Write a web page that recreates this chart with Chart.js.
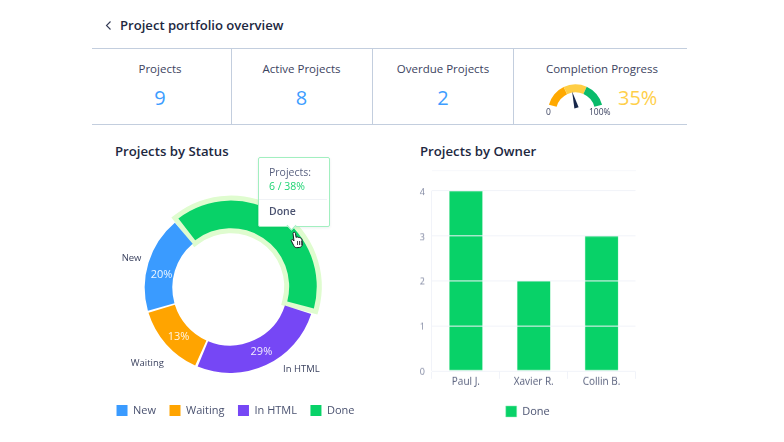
<!DOCTYPE html>
<html><head><meta charset="utf-8">
<script src="https://cdn.jsdelivr.net/npm/chart.js@4"></script>
<style>
html,body{margin:0;padding:0;background:#fff;width:784px;height:442px;overflow:hidden;font-family:"Open Sans",sans-serif}
.t{position:absolute;white-space:nowrap;line-height:1}
.c{transform:translateX(-50%)}
.line{position:absolute;background:#c3cede}
canvas{position:absolute}
#tip{position:absolute;left:257.5px;top:156.5px;width:70px;height:68px;background:#fff;border:1.3px solid #a2efc0;border-radius:2px;box-shadow:0 1px 3px rgba(30,60,50,.08)}
#tipNotch{position:absolute;left:288px;top:221.5px;width:6px;height:6px;background:#fff;border-right:1.3px solid #a2efc0;border-bottom:1.3px solid #a2efc0;transform:rotate(45deg)}
</style></head>
<body>
<svg style="position:absolute;left:104px;top:20px" width="10" height="12" viewBox="0 0 10 12"><path d="M6.5 1.5 L2.5 5.5 L6.5 9.5" fill="none" stroke="#333a55" stroke-width="1.1"/></svg>
<div class="t" style="left:120px;top:18.500px;font-size:13.100px;font-weight:600;color:#21283f">Project portfolio overview</div>
<div class="line" style="left:92px;top:48px;width:595px;height:1px"></div>
<div class="line" style="left:92px;top:124px;width:595px;height:1px"></div>
<div class="line" style="left:231px;top:48px;width:1px;height:76px"></div>
<div class="line" style="left:372px;top:48px;width:1px;height:76px"></div>
<div class="line" style="left:513px;top:48px;width:1px;height:76px"></div>
<div id="kpis"></div>
<div class="t" style="left:115px;top:144.500px;font-size:13.200px;font-weight:600;color:#21283f">Projects by Status</div>
<div class="t" style="left:420px;top:144.500px;font-size:13.200px;font-weight:600;color:#21283f">Projects by Owner</div>
<canvas id="gauge" style="left:535px;top:73px;width:81px;height:45px"></canvas>
<div class="t" style="left:546px;top:108px;font-size:8.500px;color:#3c4360">0</div>
<div class="t" style="left:589px;top:108px;font-size:8.500px;color:#3c4360">100%</div>
<canvas id="donut" style="left:88.500px;top:185px;width:282px;height:240px"></canvas>
<canvas id="bars" style="left:401px;top:170px;width:260px;height:256.500px"></canvas>
<div id="tip"></div><div id="tipNotch"></div>
<div class="t" style="left:269px;top:167px;font-size:10.500px;color:#5a6280">Projects:</div>
<div class="t" style="left:269px;top:181px;font-size:10.500px;color:#1fd474">6 / 38%</div>
<div style="position:absolute;left:259px;top:199px;width:68px;height:1px;background:#f0f2f6"></div>
<div class="t" style="left:269px;top:206px;font-size:10.500px;font-weight:600;color:#4a5270">Done</div>
<svg style="position:absolute;left:290px;top:231px" width="15" height="18" viewBox="0 0 15 18"><path d="M3.5 1.5c1-.6 1.8 0 2 1l.6 4 .5-.4c.7-.4 1.5-.2 1.7.5.6-.4 1.5-.2 1.7.5.7-.3 1.6 0 1.8.8l.6 5c0 1.800-1 3.100-2.600 3.500l-3 .3c-1.500 0-2.400-.8-3-2L1.300 9.800c-.4-.7.6-1.800 1.700-.9l1 1.100L3 2.500z" fill="#fff" stroke="#1a1a22" stroke-width="1"/><path d="M7.500 10v4M9.500 10v4M11.300 10v4" stroke="#1a1a22" stroke-width=".8"/></svg>
<script>
const kpiLabels=["Projects","Active Projects","Overdue Projects","Completion Progress"];
const kpiValues=["9","8","2","35%"];
const statusLabels=["Done","In HTML","Waiting","New"];
const statusShares=[40.6,26.9,13.9,18.6];
const statusPercentLabels=["38%","29%","13%","20%"];
const statusColors=["#08d268","#7647f5","#ffa400","#3a9bff"];
const legendOrder=["New","Waiting","In HTML","Done"];
const ownerLabels=["Paul J.","Xavier R.","Collin B."];
const doneValues=[4,2,3];
const gaugeBands=[33,33,34];
const gaugeColors=["#ffa900","#ffce45","#0abb6b"];
const gaugeNeedle=40;

const kpiCenters=[160,301.500,443,602];
kpiLabels.forEach((l,i)=>{
  const d=document.createElement('div');d.className='t c';d.textContent=l;
  d.style.cssText=`left:${kpiCenters[i]}px;top:62.500px;font-size:11.500px;color:#3c4360`;
  kpis.appendChild(d);
  const v=document.createElement('div');v.className='t'+(i<3?' c':'');v.textContent=kpiValues[i];
  v.style.cssText=i<3?`left:${kpiCenters[i]}px;top:88px;font-size:20px;font-weight:500;color:#3d9dff`:
    `left:618px;top:88px;font-size:20px;font-weight:500;color:#ffcf4a`;
  kpis.appendChild(v);
});

Chart.defaults.font.family='"Open Sans",sans-serif';
Chart.defaults.animation=false;
Chart.defaults.devicePixelRatio=1;

new Chart(document.getElementById('gauge'),{
  type:'doughnut',
  data:{labels:["Low","Mid","High"],datasets:[{data:gaugeBands,backgroundColor:gaugeColors,borderWidth:0}]},
  options:{responsive:false,rotation:-75,circumference:150,radius:27.500,cutout:'71%',
    layout:{padding:0},plugins:{legend:{display:false},tooltip:{enabled:false}},events:[]},
  plugins:[{id:'needle',afterDraw(ch){
    const c=ch.ctx;
    const a=(-75+150*gaugeNeedle/100)*Math.PI/180;
    c.save();c.translate(41,33);c.rotate(a);
    c.beginPath();c.moveTo(0,-15);c.lineTo(2.200,2);c.lineTo(-2.200,2);c.closePath();
    c.fillStyle='#16264a';c.fill();c.restore();
  }}]
});

const innerLabelR=71;
const labelDrop=2;
const innerNudge={"New":[-.6,6],"Waiting":[1.7,.5],"In HTML":[1.5,-1.800]};
const outerR={"New":104,"Waiting":113,"In HTML":104};
const outerNudge={"New":[1,-1],"Waiting":[2,-1],"In HTML":[27.500,-14.800]};
const donutPlugin={id:'donutExtras',
  afterLayout(ch){const g=ch.legend;g.left+=5.5;g.right+=5.5;g.top+=1;g.bottom+=1;},
  beforeDatasetsDraw(ch){
    const el=ch.getDatasetMeta(0).data[0],o=el.options;
    el.options=Object.assign({},o,{borderWidth:10,borderColor:'#dffccf',borderJoinStyle:'miter'});
    el.draw(ch.ctx);el.options=o;
  },
  afterDatasetsDraw(ch){
    const c=ch.ctx,meta=ch.getDatasetMeta(0);
    c.save();c.textAlign='center';c.textBaseline='middle';
    statusLabels.forEach((l,i)=>{
      if(i===0)return;
      const el=meta.data[i],mid=(el.startAngle+el.endAngle)/2;
      const cx=el.x,cy=el.y+labelDrop,m=innerNudge[l],n=outerNudge[l];
      c.font='11px "Open Sans"';c.fillStyle='rgba(255,255,255,.9)';
      c.fillText(statusPercentLabels[i],cx+Math.cos(mid)*innerLabelR+m[0],cy+Math.sin(mid)*innerLabelR+m[1]);
      c.font='9.500px "Open Sans"';c.fillStyle='#3c4360';
      c.fillText(l,cx+Math.cos(mid)*outerR[l]+n[0],cy+Math.sin(mid)*outerR[l]+n[1]);
    });
    c.restore();
  }};
new Chart(document.getElementById('donut'),{
  type:'doughnut',
  data:{labels:statusLabels,datasets:[{data:statusShares,backgroundColor:statusColors,borderWidth:0,spacing:3.5,
     offset:[6,0,0,0]}]},
  options:{responsive:false,rotation:-39.500,radius:83.500,cutout:'67%',
    events:[],
    plugins:{tooltip:{enabled:false},
      legend:{position:'bottom',
        labels:{boxWidth:11,boxHeight:11,padding:13.500,color:'#4a5270',font:{size:11},
          generateLabels(ch){
            return legendOrder.map(n=>{const i=statusLabels.indexOf(n);
              return {text:n,fillStyle:statusColors[i],strokeStyle:statusColors[i],lineWidth:0,index:i,fontColor:'#4a5270'};});
          }}}}},
  plugins:[donutPlugin]
});

new Chart(document.getElementById('bars'),{
  type:'bar',
  data:{labels:ownerLabels,datasets:[{label:"Done",data:doneValues,backgroundColor:"#08d268",borderColor:"#a5efc5",borderWidth:{left:.6,right:.6,top:.6},
     categoryPercentage:1,barPercentage:.5}]},
  options:{responsive:false,events:[],
    layout:{padding:{right:25.500,top:20.700}},
    scales:{
      x:{grid:{color:c=>c.index===0?'#f1f3f9':'rgba(0,0,0,0)',tickColor:'#f1f3f9',drawTicks:true,tickLength:8,z:1},border:{color:'#f1f3f9'},
        ticks:{color:'#555d7a',font:{size:10},padding:-3,maxRotation:0},
        afterFit(s){s.height=21;}},
      y:{min:0,max:4,grid:{color:'#f1f3f9',drawTicks:false,z:1},border:{display:false},
        ticks:{stepSize:1,color:'#7f86a0',font:{size:9},padding:7,labelOffset:1.5},
        afterFit(s){s.width=31;}}
    },
    plugins:{tooltip:{enabled:false},
      legend:{position:'bottom',labels:{boxWidth:11,boxHeight:11,padding:14,color:'#4a5270',font:{size:11}}}}},
  plugins:[{id:'legendShift',afterLayout(ch){ch.legend.left+=9.5;ch.legend.right+=9.5;}}]
});
</script>
</body></html>
